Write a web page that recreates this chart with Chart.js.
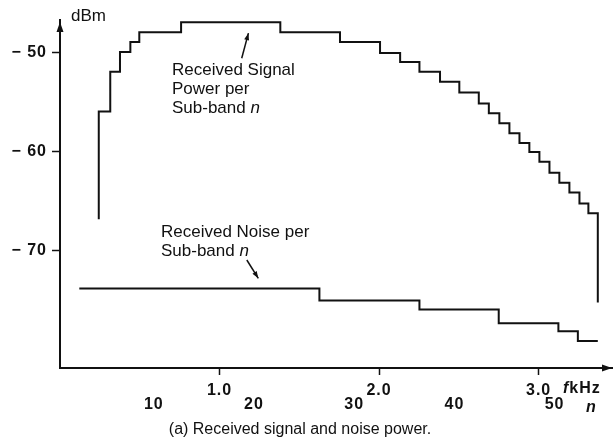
<html>
<head>
<meta charset="UTF-8">
<script src="https://cdn.jsdelivr.net/npm/chart.js@4.4.1/dist/chart.umd.min.js"></script>
<style>
  body { margin: 0; background: #fff; }
  #box { width: 616px; height: 443px; }
</style>
</head>
<body>
<div id="box"><canvas id="rx"></canvas></div>

<script>
// received signal power per sub-band: step edges (kHz) and levels (dBm)
var sigEdges = [0.243, 0.315, 0.376, 0.441, 0.497, 0.759, 1.381, 1.755, 2.006, 2.132, 2.253, 2.382, 2.503,
                2.625, 2.688, 2.754, 2.817, 2.880, 2.942, 3.005, 3.068, 3.130, 3.193, 3.256, 3.312, 3.371];
var sigLevels = [-55.9, -51.9, -49.9, -48.9, -47.9, -46.9, -47.9, -48.9, -50.0, -50.9, -51.9, -52.9,
                 -54.0, -55.1, -56.1, -57.1, -58.1, -59.1, -60.0, -61.0, -62.1, -63.1, -64.1, -65.2, -66.2];
var sigStartLow = -66.8;   // bottom of the first riser
var sigEndLow = -75.2;     // bottom of the last drop

// received noise per sub-band
var noiseEdges = [0.121, 1.626, 2.253, 2.750, 3.124, 3.246, 3.371];
var noiseLevels = [-73.8, -75.0, -75.9, -77.3, -78.1, -79.1];

// tick labels
var dbTicks = [-70, -60, -50];
var khzTicks = [1, 2, 3];
var bandTicks = [10, 20, 30, 40, 50];
</script>

<script>
var INK = '#111';
var FONT = '"Liberation Sans", Arial, Helvetica, sans-serif';

function stepPoints(edges, levels, lowStart, lowEnd) {
	var pts = [];
	if (lowStart !== undefined) pts.push({x: edges[0], y: lowStart});
	pts.push({x: edges[0], y: levels[0]});
	for (var i = 1; i < levels.length; i++) pts.push({x: edges[i], y: levels[i]});
	var last = edges.length - 1;
	pts.push({x: edges[last], y: lowEnd !== undefined ? lowEnd : levels[levels.length - 1]});
	return pts;
}

// text labels drawn on the plot, anchored in data units
var notes = [
	{x: 0.702, y: -51.72, lines: [[['Received Signal', 0]], [['Power per', 0]], [['Sub-band ', 0], ['n', 1]]],
	 from: [1.139, -50.54], to: [1.181, -48.0]},
	{x: 0.633, y: -68.15, lines: [[['Received Noise per', 0]], [['Sub-band ', 0], ['n', 1]]],
	 from: [1.171, -70.91], to: [1.243, -72.76]}
];
var caption = '(a) Received signal and noise power.';

function drawPieces(ctx, pieces, x, y, font) {
	for (var i = 0; i < pieces.length; i++) {
		ctx.font = (pieces[i][1] ? 'italic ' : '') + font;
		ctx.fillText(pieces[i][0], x, y);
		x += ctx.measureText(pieces[i][0]).width;
	}
}

function arrowHead(ctx, x1, y1, x2, y2, len, half) {
	var a = Math.atan2(y2 - y1, x2 - x1);
	ctx.beginPath();
	ctx.moveTo(x2, y2);
	ctx.lineTo(x2 - len * Math.cos(a) + half * Math.sin(a), y2 - len * Math.sin(a) - half * Math.cos(a));
	ctx.lineTo(x2 - len * Math.cos(a) - half * Math.sin(a), y2 - len * Math.sin(a) + half * Math.cos(a));
	ctx.closePath();
	ctx.fill();
}

var decor = {
	id: 'decor',
	afterLayout: function(chart) {
		// the sub-band row sits tucked in between the kHz labels
		var n = chart.scales.n;
		n.top -= 9;
		n.bottom -= 9;
	},
	beforeDraw: function(chart) {
		// the scanned tick lettering is set wide
		chart.ctx.letterSpacing = '1px';
	},
	afterDraw: function(chart) {
		var ctx = chart.ctx, a = chart.chartArea;
		var xs = chart.scales.x, ys = chart.scales.y;
		ctx.save();
		ctx.fillStyle = INK;
		ctx.strokeStyle = INK;

		// axis arrows
		arrowHead(ctx, a.left, a.bottom, a.left, a.top + 2, 10, 3.5);
		arrowHead(ctx, a.left, a.bottom, a.right, a.bottom, 10, 3.5);

		// axis names
		ctx.textBaseline = 'middle';
		ctx.textAlign = 'left';
		drawPieces(ctx, [['f', 1], ['kHz', 0]], a.right - 49, a.bottom + 21, 'bold 16px ' + FONT);
		drawPieces(ctx, [['n', 1]], a.right - 26, a.bottom + 40, 'bold 16px ' + FONT);
		ctx.letterSpacing = '0px';
		drawPieces(ctx, [['dBm', 0]], a.left + 11, a.top - 4, '17px ' + FONT);

		// annotations with pointer arrows
		notes.forEach(function(n) {
			var x = xs.getPixelForValue(n.x), y = ys.getPixelForValue(n.y);
			n.lines.forEach(function(line, k) { drawPieces(ctx, line, x, y + k * 19, '17px ' + FONT); });
			var x1 = xs.getPixelForValue(n.from[0]), y1 = ys.getPixelForValue(n.from[1]);
			var x2 = xs.getPixelForValue(n.to[0]), y2 = ys.getPixelForValue(n.to[1]);
			ctx.lineWidth = 1.5;
			ctx.beginPath();
			ctx.moveTo(x1, y1);
			ctx.lineTo(x2, y2);
			ctx.stroke();
			arrowHead(ctx, x1, y1, x2, y2, 7, 2.5);
		});

		// figure caption
		ctx.textAlign = 'center';
		ctx.font = '16px ' + FONT;
		ctx.fillText(caption, (a.left + a.right) / 2 - 36, a.bottom + 62);
		ctx.restore();
	}
};

var tickFont = {family: FONT, size: 16, weight: 'bold'};

new Chart(document.getElementById('rx'), {
	type: 'line',
	data: {
		datasets: [{
			label: 'Received Signal Power per Sub-band n',
			data: stepPoints(sigEdges, sigLevels, sigStartLow, sigEndLow),
			stepped: 'before',
			borderColor: INK,
			borderWidth: 2,
			pointRadius: 0,
			fill: false
		}, {
			label: 'Received Noise per Sub-band n',
			data: stepPoints(noiseEdges, noiseLevels),
			stepped: 'before',
			borderColor: INK,
			borderWidth: 2,
			pointRadius: 0,
			fill: false
		}]
	},
	options: {
		responsive: true,
		maintainAspectRatio: false,
		animation: false,
		layout: {padding: {top: 20, right: 4, left: 0, bottom: 22}},
		plugins: {
			legend: {display: false},
			tooltip: {enabled: false}
		},
		scales: {
			x: {
				type: 'linear',
				position: 'bottom',
				min: 0,
				max: 3.46,
				weight: 0,
				afterBuildTicks: function(s) { s.ticks = khzTicks.map(function(v) { return {value: v}; }); },
				afterFit: function(s) { s.height = 33; },
				grid: {display: true, drawOnChartArea: false, drawTicks: true, tickLength: 7, tickColor: INK, tickWidth: 1.5},
				border: {display: true, color: INK, width: 2},
				ticks: {color: INK, font: tickFont, padding: 6, maxRotation: 0,
					callback: function(v) { return v.toFixed(1); }}
			},
			n: {
				type: 'linear',
				position: 'bottom',
				min: 0.64,
				max: 55.73,
				weight: 1,
				afterBuildTicks: function(s) { s.ticks = bandTicks.map(function(v) { return {value: v}; }); },
				afterFit: function(s) { s.height = 20; },
				grid: {display: false, drawTicks: false},
				border: {display: false},
				ticks: {color: INK, font: tickFont, padding: 3, maxRotation: 0}
			},
			y: {
				type: 'linear',
				min: -81.82,
				max: -46.67,
				afterBuildTicks: function(s) { s.ticks = dbTicks.map(function(v) { return {value: v}; }); },
				afterFit: function(s) { s.width = 60; },
				grid: {display: true, drawOnChartArea: false, drawTicks: true, tickLength: 8, tickColor: INK, tickWidth: 1.5},
				border: {display: true, color: INK, width: 2},
				ticks: {color: INK, font: tickFont, padding: 5,
					callback: function(v) { return '\u2212 ' + Math.abs(v); }}
			}
		}
	},
	plugins: [decor]
});
</script>
</body>
</html>
